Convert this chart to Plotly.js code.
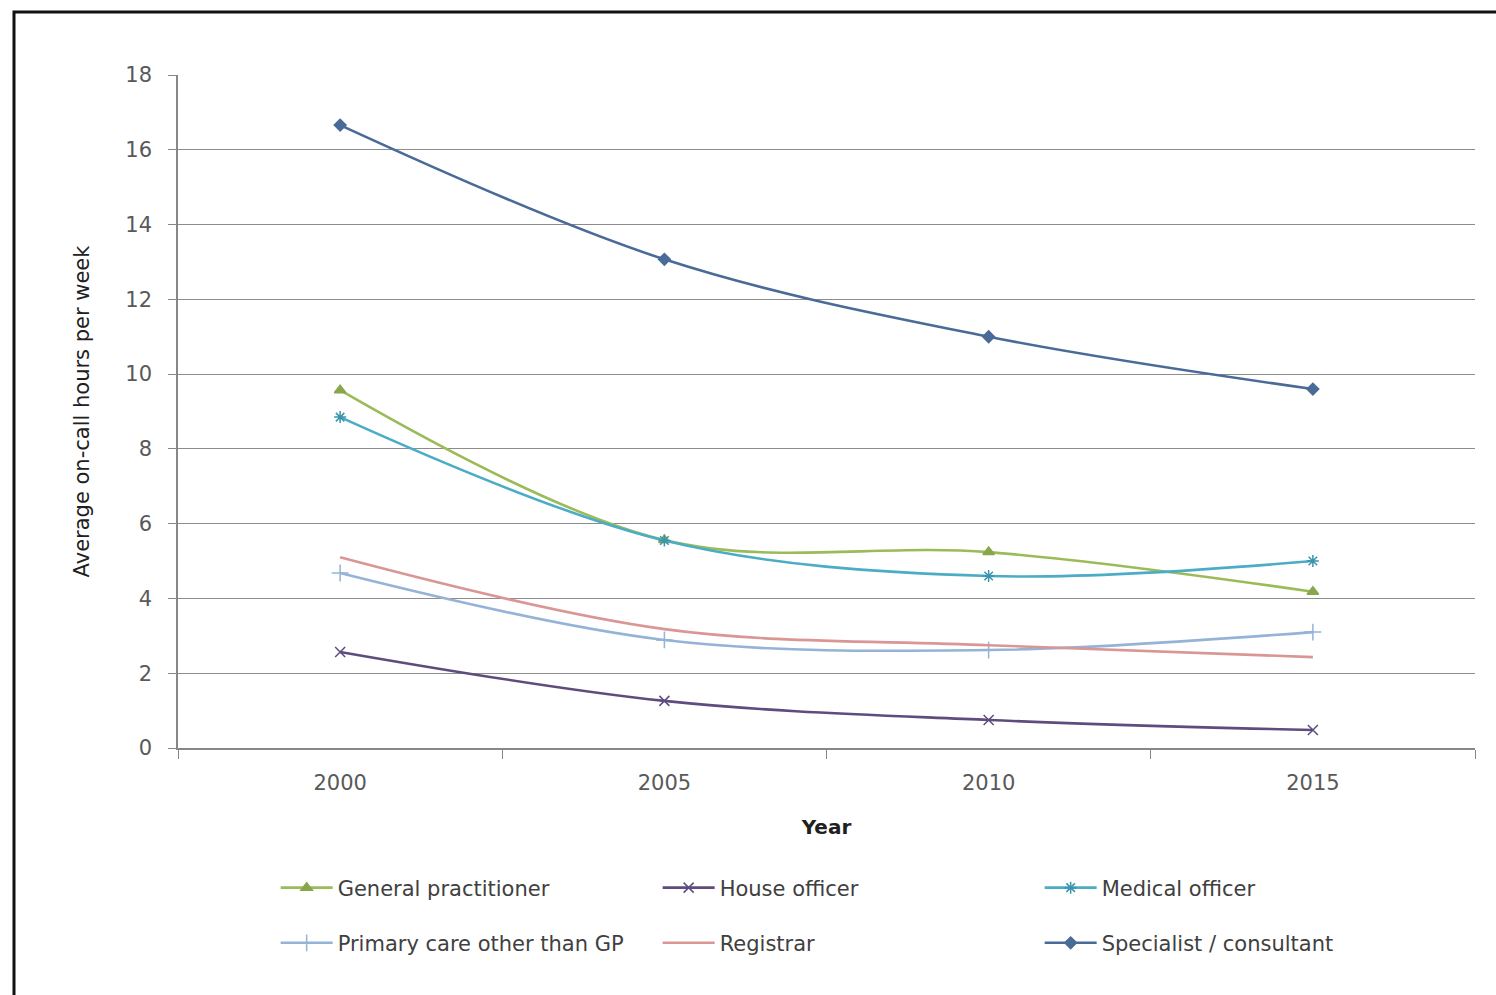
<!DOCTYPE html>
<html>
<head>
<meta charset="utf-8">
<script src="https://cdn.plot.ly/plotly-3.0.1.min.js"></script>
<style>
html,body{margin:0;padding:0;background:#fff;}
#chart{width:1496px;height:995px;}
</style>
</head>
<body>
<div id="chart"></div>
<script>
const years = ['2000', '2005', '2010', '2015'];
const generalPractitioner = [9.57, 5.56, 5.24, 4.18];
const houseOfficer = [2.57, 1.26, 0.75, 0.48];
const medicalOfficer = [8.85, 5.55, 4.6, 5.0];
const primaryCareOtherThanGP = [4.68, 2.89, 2.62, 3.1];
const registrar = [5.1, 3.18, 2.75, 2.43];
const specialistConsultant = [16.66, 13.07, 11.0, 9.6];
const yTicks = [0, 2, 4, 6, 8, 10, 12, 14, 16, 18];

const FONT = '"DejaVu Sans", Verdana, sans-serif';

function tr(name, y, color, symbol, size, legend, mcolor) {
  const t = {
    x: years, y: y, name: name, type: 'scatter',
    mode: symbol ? 'lines+markers' : 'lines',
    line: {color: color, width: 2.6, shape: 'spline', smoothing: 1},
    legend: legend
  };
  if (symbol) {
    t.marker = {symbol: symbol, size: size, color: mcolor || color,
                line: {color: mcolor || color, width: 1.5}};
  }
  return t;
}

const data = [
  tr('General practitioner', generalPractitioner, '#9BBB59', 'triangle-up', 10, 'legend', '#8AA64C'),
  tr('House officer', houseOfficer, '#5E4C7E', 'x-thin-open', 10, 'legend'),
  tr('Medical officer', medicalOfficer, '#4BACC6', 'asterisk-open', 10, 'legend', '#3A94AE'),
  tr('Primary care other than GP', primaryCareOtherThanGP, '#95B3D7', 'cross-thin-open', 12, 'legend2'),
  tr('Registrar', registrar, '#D99694', null, 0, 'legend2'),
  tr('Specialist / consultant', specialistConsultant, '#4A6A98', 'diamond', 9, 'legend2')
];

const legendCommon = {
  orientation: 'h', xanchor: 'left', yanchor: 'middle',
  font: {family: FONT, size: 21, color: '#404040'},
  entrywidth: 315, bgcolor: 'rgba(0,0,0,0)', borderwidth: 0,
  itemwidth: 52, traceorder: 'normal'
};

const layout = {
  width: 1496, height: 995,
  margin: {l: 178, r: 21, t: 75, b: 247, pad: 0},
  paper_bgcolor: '#ffffff', plot_bgcolor: '#ffffff',
  font: {family: FONT, color: '#595959'},
  showlegend: true,
  xaxis: {
    type: 'category', range: [-0.5, 3.5],
    tickson: 'boundaries', ticks: 'outside', ticklen: 9, tickcolor: '#878787',
    showline: true, linecolor: '#878787', linewidth: 1.5,
    showgrid: false, zeroline: false,
    tickfont: {family: FONT, size: 21, color: '#595959'},
    ticklabelstandoff: 15,
    title: {text: '<b>Year</b>', font: {family: FONT, size: 20, color: '#202020'}, standoff: 26}
  },
  yaxis: {
    range: [0, 18], tickvals: yTicks, ticktext: yTicks.map(String),
    ticks: 'outside', ticklen: 8, tickcolor: '#878787',
    showline: true, linecolor: '#878787', linewidth: 1.5,
    showgrid: true, gridcolor: '#8C8C8C', gridwidth: 1.2, zeroline: false,
    tickfont: {family: FONT, size: 21, color: '#595959'},
    ticklabelstandoff: 12,
    title: {text: 'Average on-call hours per week', font: {family: FONT, size: 21, color: '#202020'}, standoff: 30}
  },
  legend: Object.assign({}, legendCommon, {x: 0.0753, y: -0.208}),
  legend2: Object.assign({}, legendCommon, {x: 0.0753, y: -0.290}),
  shapes: [{
    type: 'rect', xref: 'paper', yref: 'paper',
    x0: (14 - 178) / 1297, x1: 1.1, y0: -0.5, y1: (748 - 12) / 673,
    line: {color: '#111111', width: 3}, fillcolor: 'rgba(0,0,0,0)', layer: 'below'
  }]
};

Plotly.newPlot('chart', data, layout, {displayModeBar: false, responsive: false});
</script>
</body>
</html>
